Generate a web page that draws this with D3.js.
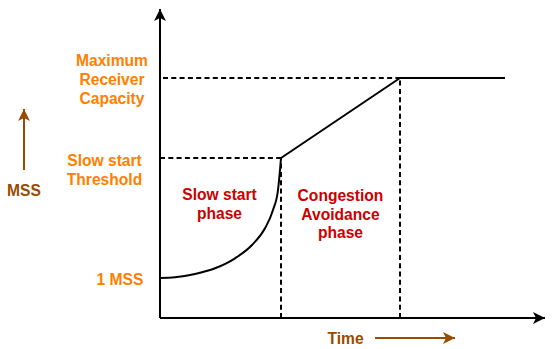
<!DOCTYPE html>
<html>
<head>
<meta charset="utf-8">
<script src="https://cdn.jsdelivr.net/npm/d3@7/dist/d3.min.js"></script>
<style>
  html, body { margin: 0; padding: 0; background: #fff; }
  svg { display: block; }
  text { font-family: "Liberation Sans", Arial, Helvetica, sans-serif; font-weight: bold; font-size: 15.6px; }
</style>
</head>
<body>
<svg id="chart" width="555" height="349"></svg>
<script>
// ---- data (MSS units vs. time units) ----
const oneMss = 4;
const threshold = 16;
const maxCapacity = 24;
const slowStartEnd = 12.1;
const congestionEnd = 24;
const timeEnd = 34.5;

const slowStartCurve = [[0,4.0],[1.5,4.07],[3.5,4.4],[5.5,4.97],[7.5,5.97],[9.2,7.3],[10.5,8.97],[11.3,10.8],[11.8,12.8],[12.0,14.8],[12.1,16.0]];
const congestionLine = [[12.1,16],[24,24]];
const capacityLine = [[24,24],[34.5,24]];

const levelLabels = [
  { value: 24, lines: ["Maximum", "Receiver", "Capacity"] },
  { value: 16, lines: ["Slow start", "Threshold"] },
  { value: 4,  lines: ["1 MSS"] }
];
const phaseLabels = [
  { lines: ["Slow start", "phase"] },
  { lines: ["Congestion", "Avoidance", "phase"] }
];
const yAxisTitle = "MSS";
const xAxisTitle = "Time";

// ---- layout ----
const svg = d3.select("#chart");
const x = d3.scaleLinear().domain([0, 38.6]).range([160, 546]);
const y = d3.scaleLinear().domain([0, 31]).range([318, 8]);

const ORANGE = "#FF8000", RED = "#CC0000", BROWN = "#994C00";

const defs = svg.append("defs");
function marker(id, color) {
  defs.append("marker")
    .attr("id", id).attr("viewBox", "-13 -7 14 14")
    .attr("refX", 0).attr("refY", 0)
    .attr("markerWidth", 14).attr("markerHeight", 14)
    .attr("markerUnits", "userSpaceOnUse")
    .attr("orient", "auto")
    .append("path").attr("d", "M0,0 L-12,-6 L-9,0 L-12,6 Z").attr("fill", color);
}
marker("arrBlack", "#000");
marker("arrBrown", BROWN);

const line = d3.line().x(d => x(d[0])).y(d => y(d[1]));

// dashed guides
const dash = "5 3.3";
const g = svg.append("g").attr("stroke", "#000").attr("stroke-width", 2).attr("fill", "none");
g.append("path").attr("d", line([[0, maxCapacity], [congestionEnd, maxCapacity]])).attr("stroke-dasharray", dash).attr("stroke-dashoffset", -3);
g.append("path").attr("d", line([[0, threshold], [slowStartEnd, threshold]])).attr("stroke-dasharray", dash);
g.append("path").attr("d", line([[slowStartEnd, 0], [slowStartEnd, threshold]])).attr("stroke-dasharray", dash);
g.append("path").attr("d", line([[congestionEnd, 0], [congestionEnd, maxCapacity]])).attr("stroke-dasharray", dash);

// curves
g.append("path").attr("d", d3.line().x(d => x(d[0])).y(d => y(d[1])).curve(d3.curveMonotoneX)(slowStartCurve));
g.append("path").attr("d", line(congestionLine));
g.append("path").attr("d", line(capacityLine));

// axes
const [x0, x1] = x.range();
const [y0, y1] = y.range();
g.append("line").attr("x1", x0).attr("y1", y0).attr("x2", x0).attr("y2", y1 + 1).attr("marker-end", "url(#arrBlack)");
g.append("line").attr("x1", x0).attr("y1", y0).attr("x2", x1 - 1).attr("y2", y0).attr("marker-end", "url(#arrBlack)");

// level labels (x centre, first baseline offset from the level)
const lh = 19;
const levelPos = { 24: [112, -12], 16: [104.5, 8], 4: [120, 7] };
levelLabels.forEach(L => {
  const [cx, off] = levelPos[L.value];
  const base = y(L.value) + off;
  const t = svg.append("text").attr("fill", ORANGE).attr("text-anchor", "middle");
  L.lines.forEach((s, i) => t.append("tspan").attr("x", cx).attr("y", base + i * lh).text(s));
});

// phase labels
const phaseX = [(x(0) + x(slowStartEnd)) / 2 - 1, (x(slowStartEnd) + x(congestionEnd)) / 2];
const phaseBase = [200, 201];
phaseLabels.forEach((P, k) => {
  const t = svg.append("text").attr("fill", RED).attr("text-anchor", "middle");
  P.lines.forEach((s, i) => t.append("tspan").attr("x", phaseX[k]).attr("y", phaseBase[k] + i * (k ? 18.6 : 19)).text(s));
});

// axis titles with arrows
svg.append("text").attr("fill", BROWN).attr("text-anchor", "middle").attr("x", 24).attr("y", 196).text(yAxisTitle);
svg.append("line").attr("x1", 24).attr("y1", 170).attr("x2", 24).attr("y2", 109)
  .attr("stroke", BROWN).attr("stroke-width", 2).attr("marker-end", "url(#arrBrown)");
svg.append("text").attr("fill", BROWN).attr("text-anchor", "middle").attr("x", 345.5).attr("y", 344).text(xAxisTitle);
svg.append("line").attr("x1", 375).attr("y1", 338).attr("x2", 455).attr("y2", 338)
  .attr("stroke", BROWN).attr("stroke-width", 2).attr("marker-end", "url(#arrBrown)");
</script>
</body>
</html>
